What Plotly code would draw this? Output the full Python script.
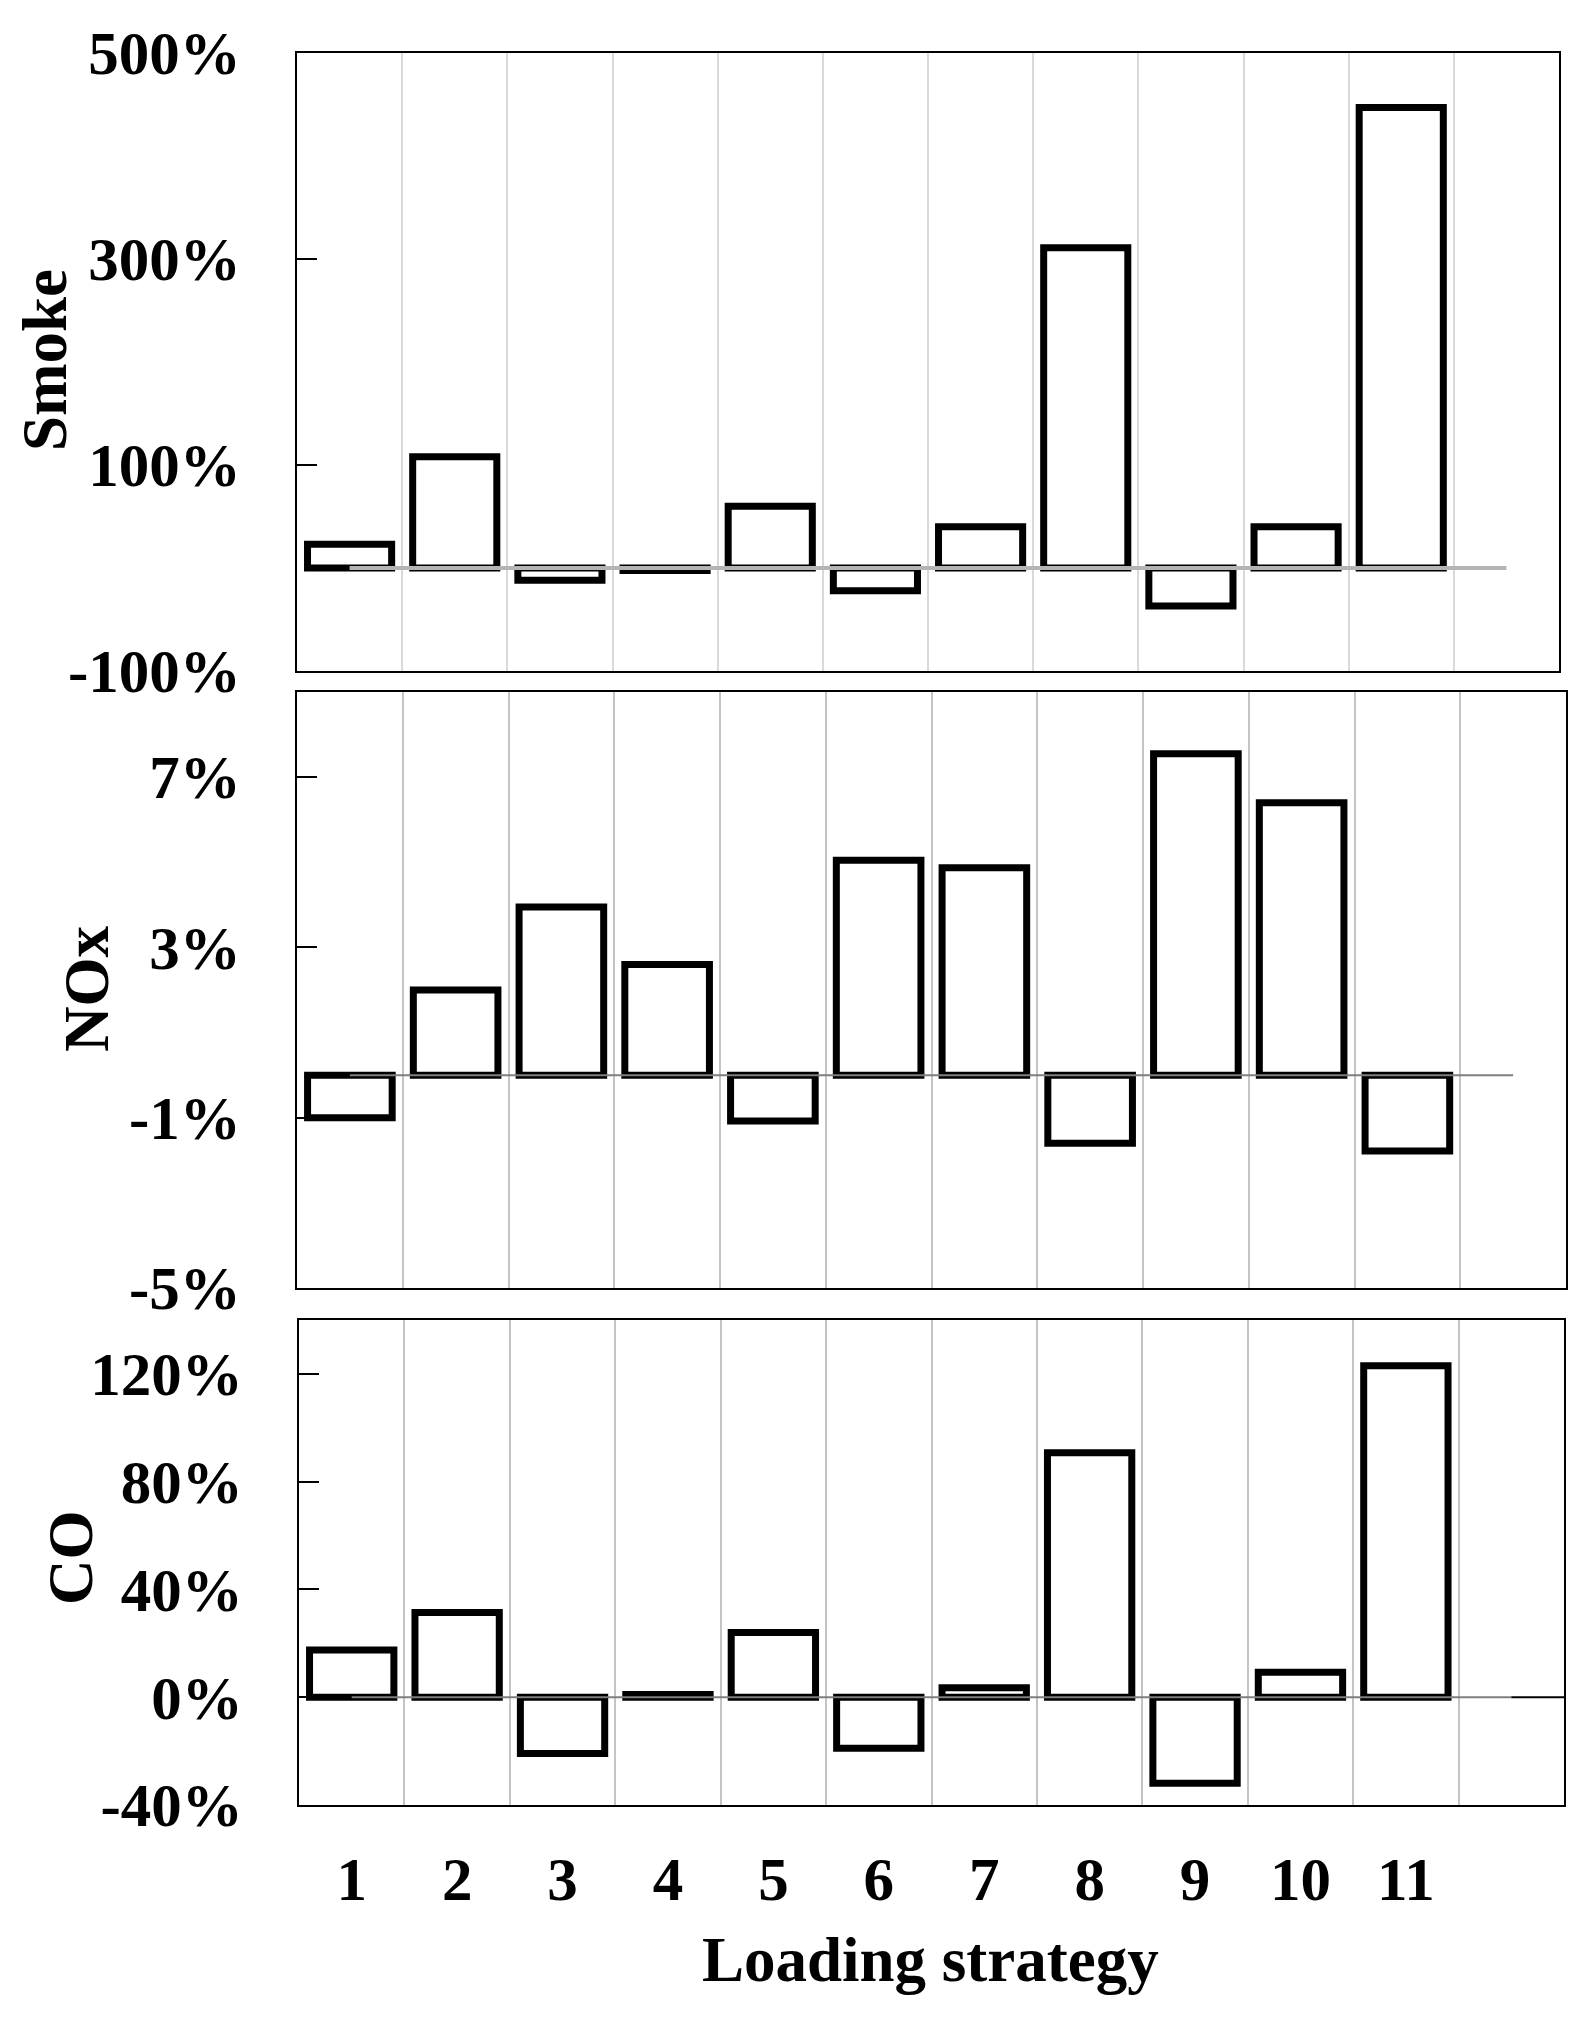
import plotly.graph_objects as go

strategies = [1, 2, 3, 4, 5, 6, 7, 8, 9, 10, 11]
smoke = [23, 108, -12, -2.5, 60, -22, 40, 311, -37, 40, 447]
nox = [-1.0, 2.0, 3.95, 2.6, -1.08, 5.05, 4.87, -1.6, 7.55, 6.4, -1.78]
co = [17.5, 31.4, -20.9, 1.0, 24.0, -18.9, 3.5, 90.7, -31.9, 9.3, 123.0]

smoke_ticks = [-100, 100, 300, 500]
smoke_ticktext = ["-100%", "100%", "300%", "500%"]
nox_ticks = [-5, -1, 3, 7]
nox_ticktext = ["-5%", "-1%", "3%", "7%"]
co_ticks = [-40, 0, 40, 80, 120]
co_ticktext = ["-40%", "0%", "40%", "80%", "120%"]
x_ticktext = [str(s) for s in strategies]

FONT = "Liberation Serif"
FS = 61
FT = 63
W, H = 1593, 2022

fig = go.Figure()

panels = [
    dict(vals=smoke, xa="x", ya="y", zc="#b4b4b4", zw=4),
    dict(vals=nox, xa="x2", ya="y2", zc="#7f7f7f", zw=2),
    dict(vals=co, xa="x3", ya="y3", zc="#7f7f7f", zw=2),
]
for p in panels:
    fig.add_trace(go.Bar(
        x=strategies, y=p["vals"], xaxis=p["xa"], yaxis=p["ya"],
        width=0.8, marker=dict(color="white", line=dict(color="black", width=7)),
        showlegend=False, hoverinfo="skip"))
    fig.add_trace(go.Scatter(
        x=[1, 12], y=[0, 0], xaxis=p["xa"], yaxis=p["ya"], mode="lines",
        line=dict(color=p["zc"], width=p["zw"]), showlegend=False, hoverinfo="skip"))

fig.add_trace(go.Scatter(
    x=[12, 12.5], y=[0, 0], xaxis="x3", yaxis="y3", mode="lines",
    line=dict(color="black", width=2), showlegend=False, hoverinfo="skip"))

def xax(domain, anchor, labels, gc):
    return dict(
        domain=domain, anchor=anchor, range=[0.5, 12.5], automargin=False,
        tickmode="array", tickvals=strategies, ticktext=x_ticktext,
        showticklabels=labels, ticks="", showgrid=False, zeroline=False,
        showline=True, linecolor="black", linewidth=2, mirror=True,
        minor=dict(tick0=0.5, dtick=1, showgrid=True, gridcolor=gc, gridwidth=2, ticks=""),
        tickfont=dict(family=FONT, size=FS, color="black", weight="bold"),
        ticklabelstandoff=20,
    )

def yax(domain, anchor, rng, tv, tt):
    return dict(
        domain=domain, anchor=anchor, range=rng, automargin=False,
        tickmode="array", tickvals=tv, ticktext=tt,
        ticks="inside", ticklen=20, tickwidth=2, tickcolor="black",
        showgrid=False, zeroline=False,
        showline=True, linecolor="black", linewidth=2, mirror=True,
        tickfont=dict(family=FONT, size=FS, color="black", weight="bold"),
        ticklabelstandoff=42,
    )

fig.update_layout(
    template="none",
    width=W, height=H, margin=dict(l=0, r=0, t=0, b=0, pad=0, autoexpand=False),
    paper_bgcolor="white", plot_bgcolor="white", bargap=0.2,
    xaxis=xax([297 / W, 1559 / W], "y", False, "#d9d9d9"),
    yaxis=yax([1 - 671 / H, 1 - 53 / H], "x", [-100, 500], smoke_ticks, smoke_ticktext),
    xaxis2=xax([297 / W, 1566 / W], "y2", False, "#c4c4c4"),
    yaxis2=yax([1 - 1288 / H, 1 - 692 / H], "x2", [-5, 9], nox_ticks, nox_ticktext),
    xaxis3=xax([299 / W, 1564 / W], "y3", True, "#c4c4c4"),
    yaxis3=yax([1 - 1805 / H, 1 - 1320 / H], "x3", [-40, 140], co_ticks, co_ticktext),
)

titles = [("Smoke", 45, 360), ("NOx", 87, 989), ("CO", 71, 1558)]
for t, px, py in titles:
    fig.add_annotation(text=t, x=px / W, y=1 - py / H, xref="paper", yref="paper",
                       textangle=-90, showarrow=False, xanchor="center", yanchor="middle",
                       font=dict(family=FONT, size=FT, color="black", weight="bold"))

fig.add_annotation(text="Loading strategy", x=930 / W, y=1 - 1960 / H, xref="paper", yref="paper",
                   showarrow=False, xanchor="center", yanchor="middle",
                   font=dict(family=FONT, size=FT, color="black", weight="bold"))

fig.write_html("out.html", config={"displayModeBar": False},
               post_script="document.body.style.margin='0px';")
